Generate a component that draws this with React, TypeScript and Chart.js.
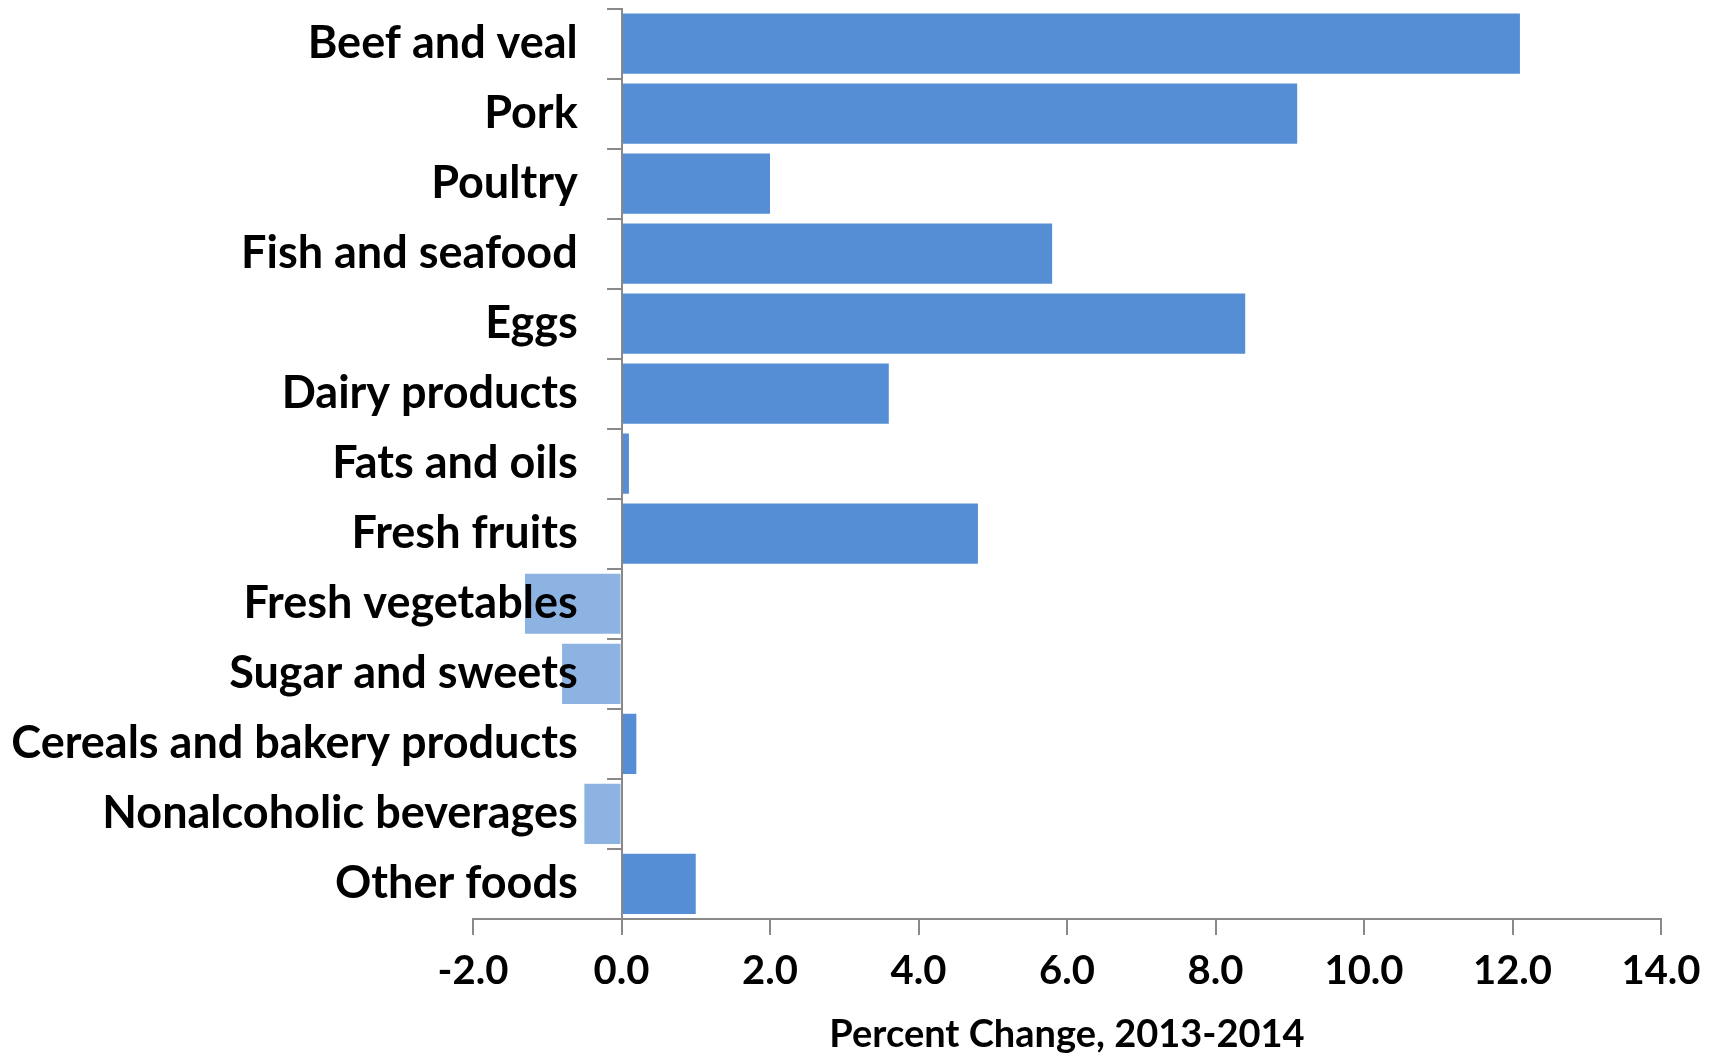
import React, { useEffect, useRef } from "react";
import { Chart, registerables } from "chart.js";

Chart.register(...registerables);

const categories = [
  "Beef and veal",
  "Pork",
  "Poultry",
  "Fish and seafood",
  "Eggs",
  "Dairy products",
  "Fats and oils",
  "Fresh fruits",
  "Fresh vegetables",
  "Sugar and sweets",
  "Cereals and bakery products",
  "Nonalcoholic beverages",
  "Other foods",
];

const percentChange = [12.1, 9.1, 2.0, 5.8, 8.4, 3.6, 0.1, 4.8, -1.3, -0.8, 0.2, -0.5, 1.0];

const xMin = -2;
const xMax = 14;
const xStep = 2;
const xTitle = "Percent Change, 2013-2014";

const POS = "#558ED5";
const NEG = "#8DB3E2";
const AXIS = "#898989";
const FONT = "Lato, 'Noto Sans', sans-serif";

export default function App() {
  const ref = useRef<HTMLCanvasElement>(null);
  useEffect(() => {
    const chart = new Chart(ref.current!, {
      type: "bar",
      data: {
        labels: categories,
        datasets: [
          {
            data: percentChange,
            backgroundColor: percentChange.map((v) => (v < 0 ? NEG : POS)),
            borderWidth: 0,
            barPercentage: 0.86,
            categoryPercentage: 1,
            yAxisID: "y",
          },
        ],
      },
      options: {
        indexAxis: "y",
        animation: false,
        responsive: true,
        maintainAspectRatio: false,
        layout: { padding: { left: 473, right: 54, top: 8.5, bottom: 0 } },
        plugins: { legend: { display: false }, tooltip: { enabled: false } },
        scales: {
          x: {
            type: "linear",
            min: xMin,
            max: xMax,
            ticks: {
              stepSize: xStep,
              callback: (v: any) => Number(v).toFixed(1),
              font: { family: FONT, size: 40, weight: "bold", lineHeight: 1.5 },
              color: "#000",
              padding: 6,
            },
            grid: { drawOnChartArea: false, tickLength: 16, color: AXIS, lineWidth: 2 },
            border: { color: AXIS, width: 2 },
            title: {
              display: true,
              text: xTitle,
              font: { family: FONT, size: 38, weight: "bold", lineHeight: 0.7 },
              color: "#000",
              padding: { top: 14.5, bottom: 6 },
            },
          },
          y: {
            type: "category",
            position: { x: 0 } as any,
            ticks: { display: false },
            grid: { drawOnChartArea: false, tickLength: 14, color: AXIS, lineWidth: 2 },
            border: { color: AXIS, width: 2, z: 1 },
          },
          yLabels: {
            type: "category",
            axis: "y",
            position: { x: -0.59 } as any,
            ticks: {
              font: { family: FONT, size: 45, weight: "bold", lineHeight: 0.01 },
              color: "#000",
              padding: 0,
              autoSkip: false,
              z: 1,
            },
            grid: { display: false },
            border: { display: false },
          },
        },
      } as any,
    });
    return () => chart.destroy();
  }, []);
  return (
    <div style={{ position: "absolute", left: 0, top: 0, width: 1715, height: 1054 }}>
      <canvas ref={ref} />
    </div>
  );
}
